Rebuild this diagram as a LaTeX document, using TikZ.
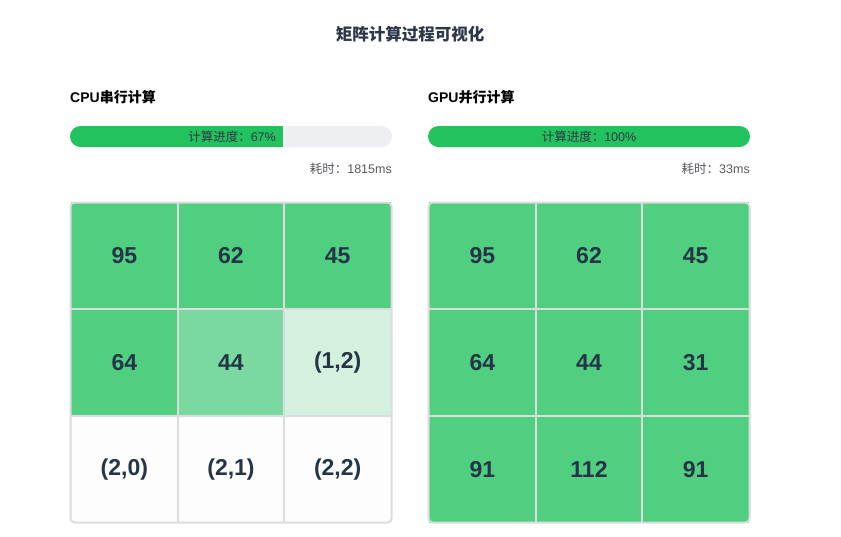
\documentclass[tikz,border=0pt]{standalone}
\usepackage{fontspec}
\setmainfont{Liberation Sans}
\newfontfamily\cjk{Noto Sans CJK SC}
\definecolor{txt}{HTML}{2D3748}
\definecolor{cellnum}{HTML}{253447}
\definecolor{barg}{HTML}{22C35E}
\definecolor{track}{HTML}{EDEFF2}
\definecolor{cellA}{HTML}{50CF80}
\definecolor{cellB}{HTML}{7AD9A0}
\definecolor{cellC}{HTML}{D3F1DE}
\definecolor{cellW}{HTML}{FDFDFD}
\definecolor{gridl}{HTML}{DADCDD}
\definecolor{timec}{HTML}{555A60}
\tikzset{
  cellbox/.style={outer sep=0pt, minimum width=106.67pt, minimum height=106.67pt, inner sep=0pt, text=cellnum, font=\fontsize{23}{27}\selectfont\bfseries},
  gridline/.style={draw=gridl, line width=2pt},
  heading/.style={anchor=west, inner sep=0pt, text=black, font=\fontsize{14}{16}\selectfont\bfseries},
  bartext/.style={inner sep=0pt, text=txt, font=\fontsize{12.5}{14}\selectfont},
  timetext/.style={anchor=east, inner sep=0pt, text=timec, font=\fontsize{12.5}{14}\selectfont},
}
\begin{document}
\begin{tikzpicture}[x=1pt,y=-1pt]
\useasboundingbox[fill=white] (0,0) rectangle (841,536);
\node[inner sep=0pt, text=txt, font=\fontsize{16.5}{19}\selectfont\cjk\bfseries] (title) at (410,34) {矩阵计算过程可视化};

% CPU
\node[heading] (cpuh) at (70,97) {CPU{\cjk 串行计算}};
\fill[track, rounded corners=10.5pt] (70,126) rectangle (392,147);
\begin{scope}
\clip[rounded corners=10.5pt] (70,126) rectangle (392,147);
\fill[barg] (70,126) rectangle (283,147);
\end{scope}
\node[bartext, anchor=east] (cpubar) at (276,137) {{\cjk 计算进度：}67\%};
\node[timetext] (cputime) at (392,169) {{\cjk 耗时：}1815ms};

\foreach \r/\c/\col/\t in {0/0/cellA/95,0/1/cellA/62,0/2/cellA/45,1/0/cellA/64,1/1/cellB/44,1/2/cellC/{(1,2)},2/0/cellW/{(2,0)},2/1/cellW/{(2,1)},2/2/cellW/{(2,2)}}{
  \node[cellbox, fill=\col] (cpu-\r-\c) at ({71+53.33+\c*106.67},{202.5+53.33+\r*106.67}) {\t};
}
\foreach \k in {0,1}{
  \draw[gridline] (cpu-0-\k.north east) -- (cpu-2-\k.south east);
  \draw[gridline] (cpu-\k-0.south west) -- (cpu-\k-2.south east);
}
\draw[gridl, line width=2pt, rounded corners=4pt] (70.5,202.5) rectangle (391.5,522.5);

% GPU
\node[heading] (gpuh) at (428,97) {GPU{\cjk 并行计算}};
\fill[barg, rounded corners=10.5pt] (428,126) rectangle (750,147);
\node[bartext] (gpubar) at (589,137) {{\cjk 计算进度：}100\%};
\node[timetext] (gputime) at (750,169) {{\cjk 耗时：}33ms};

\foreach \r/\c/\t in {0/0/95,0/1/62,0/2/45,1/0/64,1/1/44,1/2/31,2/0/91,2/1/112,2/2/91}{
  \node[cellbox, fill=cellA] (gpu-\r-\c) at ({429+53.33+\c*106.67},{202.5+53.33+\r*106.67}) {\t};
}
\foreach \k in {0,1}{
  \draw[gridline] (gpu-0-\k.north east) -- (gpu-2-\k.south east);
  \draw[gridline] (gpu-\k-0.south west) -- (gpu-\k-2.south east);
}
\draw[gridl, line width=2pt, rounded corners=4pt] (428.5,202.5) rectangle (749.5,522.5);
\end{tikzpicture}
\end{document}
